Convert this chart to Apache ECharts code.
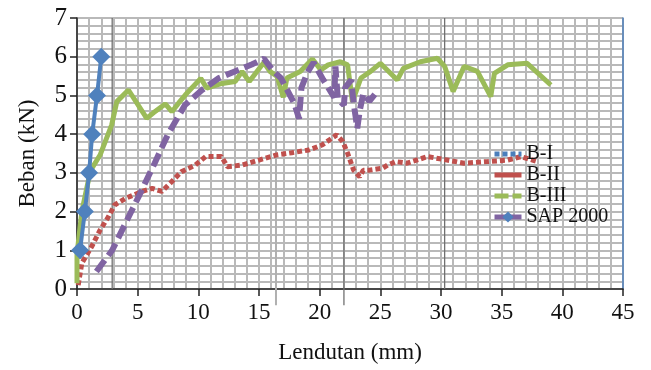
<!DOCTYPE html>
<html><head><meta charset="utf-8">
<script src="https://cdn.jsdelivr.net/npm/echarts@6/dist/echarts.min.js"></script>
<style>html,body{margin:0;padding:0;background:#fff}#c{width:651px;height:370px}</style>
</head><body><div id="c"></div>
<script>
// SAP 2000 (blue, diamonds)
const sapX = [0.25, 0.65, 1.0, 1.25, 1.65, 2.0];
const sapY = [1, 2, 3, 4, 5, 6];
// red dotted curve
const redX = [0.1,0.4,1.2,1.9,2.6,3.1,4.0,5.35,6.2,7.0,7.8,8.6,9.75,10.6,11.9,12.4,13.6,15.0,16.4,17.7,19.1,20.2,21.4,21.9,22.3,22.8,23.3,23.6,24.1,25.2,25.6,26.3,27.2,28.9,30.5,31.9,33.8,35.5,36.6,37.95];
const redY = [0.1,0.67,1.09,1.52,1.87,2.17,2.34,2.52,2.6,2.52,2.77,3.03,3.2,3.42,3.42,3.16,3.2,3.33,3.46,3.52,3.59,3.72,3.98,3.81,3.51,3.07,2.9,3.07,3.07,3.12,3.2,3.29,3.25,3.42,3.33,3.25,3.29,3.33,3.42,3.29];
// green solid curve
const greenX = [0,0,0.4,1.1,1.9,2.86,3.28,4.24,5.75,6.3,7.27,7.82,8.37,8.92,10.2,10.7,11.95,13.05,13.6,14.2,15.4,15.9,16.5,17.0,17.3,18.4,19.4,20.1,20.7,21.7,22.3,22.7,23.4,24.2,25.0,26.4,26.9,28.3,29.7,30.3,31.0,31.9,33.0,34.1,34.4,35.5,37.1,39.05];
const greenY = [0.15,0.9,2.0,3.05,3.46,4.24,4.84,5.14,4.41,4.55,4.78,4.58,4.8,5.01,5.44,5.19,5.31,5.36,5.62,5.36,5.85,5.62,5.49,4.95,5.45,5.62,5.94,5.66,5.79,5.87,5.79,4.84,5.45,5.62,5.83,5.40,5.70,5.87,5.96,5.75,5.10,5.75,5.62,4.97,5.57,5.79,5.83,5.27];
// purple dashed curve
const purpleX = [1.6,2.9,4.0,5.1,6.4,7.5,8.9,10.3,11.7,13.0,14.4,15.4,16.2,16.8,17.9,18.3,18.5,19.0,19.5,20.3,21.2,21.3,21.5,22.0,22.1,22.6,22.8,23.1,23.3,23.6,24.1,24.6];
const purpleY = [0.45,1.0,1.7,2.4,3.25,4.0,4.75,5.14,5.45,5.62,5.8,5.95,5.62,5.45,4.8,4.4,5.2,5.6,5.85,5.4,4.95,5.75,4.9,4.75,5.2,5.4,4.8,4.15,4.6,5.05,4.85,5.05];
// stray vertical lines in the picture
const refX = [2.9, 16.4, 22.0, 30.3];
const legendNames = ['B-I', 'B-II', 'B-III', 'SAP 2000'];
const xTicks = [0, 45, 5];
const yTicks = [0, 7, 1];

const zip = (a, b) => a.map((v, i) => [v, b[i]]);
const F = '"Liberation Serif","Times New Roman",serif';
const gridLine = {show: true, lineStyle: {color: '#b9b9b9', width: 2}};

const refSeries = refX.map((x, i) => ({
  type: 'line', name: 'ref' + i, clip: false, symbol: 'none', silent: true,
  data: (i === 1 || i === 2) ? [[x, -0.42], [x, 7]] : [[x, 0], [x, 7]],
  lineStyle: {color: i === 1 ? '#b0b0b0' : '#707070', width: i === 1 ? 2 : 1.3}, z: 1
}));

const hidden = {opacity: 0};
const chart = echarts.init(document.getElementById('c'));
chart.setOption({
  animation: false,
  grid: {left: 77, right: 28, top: 18, bottom: 81},
  legend: {
    data: legendNames, orient: 'vertical', left: 487, top: 139,
    itemWidth: 27, itemHeight: 14, itemGap: 1,
    lineStyle: {width: 5},
    textStyle: {fontFamily: F, fontSize: 20, color: '#111'}
  },
  xAxis: {
    type: 'value', min: xTicks[0], max: xTicks[1], interval: xTicks[2],
    name: 'Lendutan (mm)', nameLocation: 'middle', nameGap: 52,
    nameTextStyle: {fontFamily: F, fontSize: 23, color: '#111'},
    axisLine: {lineStyle: {color: '#222', width: 1.5}},
    axisTick: {length: 7, lineStyle: {color: '#222', width: 1.5}},
    axisLabel: {fontFamily: F, fontSize: 23, color: '#111', margin: 12},
    splitLine: gridLine, minorTick: {show: false, splitNumber: 5}, minorSplitLine: gridLine
  },
  yAxis: [{
    type: 'value', min: yTicks[0], max: yTicks[1], interval: yTicks[2],
    name: 'Beban (kN)', nameLocation: 'middle', nameGap: 38, nameRotate: 90,
    nameTextStyle: {fontFamily: F, fontSize: 23, color: '#111'},
    axisLine: {show: true, lineStyle: {color: '#222', width: 1.5}},
    axisTick: {show: true, length: 7, lineStyle: {color: '#222', width: 1.5}},
    axisLabel: {fontFamily: F, fontSize: 25, color: '#111', margin: 10},
    splitLine: gridLine, minorTick: {show: false, splitNumber: 5}, minorSplitLine: gridLine
  }, {
    type: 'value', min: yTicks[0], max: yTicks[1], position: 'right',
    axisLine: {show: true, lineStyle: {color: '#4f81bd', width: 1.5}},
    axisTick: {show: false}, axisLabel: {show: false}, splitLine: {show: false}
  }],
  series: refSeries.concat([
    {type: 'line', name: 'B-I', data: [], symbol: 'circle', itemStyle: hidden,
     lineStyle: {color: '#4a7ebb', width: 5, type: [5, 3]}},
    {type: 'line', name: 'B-II', data: [], symbol: 'circle', itemStyle: hidden,
     lineStyle: {color: '#c0504d', width: 5}},
    {type: 'line', name: 'B-III', data: [], symbol: 'circle', itemStyle: hidden,
     lineStyle: {color: '#9bbb59', width: 5, type: [14, 4]}},
    {type: 'line', name: 'SAP 2000', data: [], symbol: 'diamond', symbolSize: 16,
     lineStyle: {color: '#8064a2', width: 5}, itemStyle: {color: '#4f81bd'}},
    {type: 'line', name: 'red curve', data: zip(redX, redY), symbol: 'none', z: 3,
     lineStyle: {color: '#c0504d', width: 5, type: [5, 3]}},
    {type: 'line', name: 'green curve', data: zip(greenX, greenY), symbol: 'none', z: 3,
     lineStyle: {color: '#9bbb59', width: 5}},
    {type: 'line', name: 'purple curve', data: zip(purpleX, purpleY), symbol: 'none', z: 4,
     lineStyle: {color: '#8064a2', width: 6, type: [14, 6]}},
    {type: 'line', name: 'sap curve', data: zip(sapX, sapY), symbol: 'diamond', symbolSize: 18, z: 5,
     lineStyle: {color: '#4f81bd', width: 4}, itemStyle: {color: '#4f81bd'}}
  ])
});
</script></body></html>
